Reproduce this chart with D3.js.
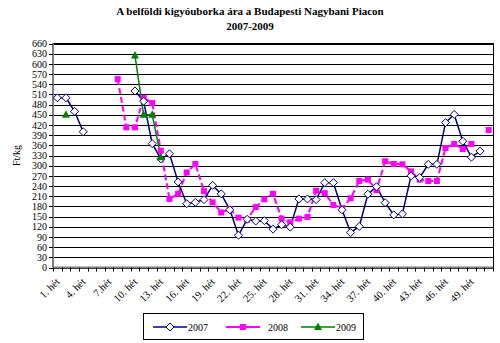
<!DOCTYPE html>
<html><head><meta charset="utf-8">
<script src="https://cdn.jsdelivr.net/npm/d3@7"></script>
<style>body{margin:0;background:#fff}svg{display:block}text{font-family:"Liberation Serif","Times New Roman",serif}</style>
</head><body>
<svg id="c" width="500" height="343"></svg>
<script>
const weekLabels = ["1. hét","2. hét","3. hét","4. hét","5. hét","6. hét","7.hét","8. hét","9. hét","10. hét",
"11. hét","12. hét","13. hét","14. hét","15. hét","16. hét","17. hét","18. hét","19. hét","20. hét",
"21. hét","22. hét","23. hét","24. hét","25. hét","26. hét","27. hét","28. hét","29. hét","30. hét",
"31. hét","32. hét","33. hét","34. hét","35. hét","36. hét","37. hét","38. hét","39. hét","40. hét",
"41. hét","42. hét","43. hét","44. hét","45. hét","46. hét","47. hét","48. hét","49. hét","50. hét","51. hét"];
const shownLabels = ["1. hét","4. hét","7.hét","10. hét","13. hét","16. hét","19. hét","22. hét","25. hét","28. hét","31. hét","34. hét","37. hét","40. hét","43. hét","46. hét","49. hét"];
const yTicks = [0,30,60,90,120,150,180,210,240,270,300,330,360,390,420,450,480,510,540,570,600,630,660];
const seriesNames = ["2007","2008","2009"];
const s2007 = [500,500,460,400,null,null,null,null,null,520,490,365,320,335,252,188,192,200,242,217,170,95,142,137,138,113,126,119,202,202,200,250,250,170,103,121,216,238,191,155,158,270,265,304,304,427,451,372,325,343,null];
const s2008 = [null,null,null,null,null,null,null,555,413,413,500,485,344,202,217,280,305,225,192,162,172,147,141,178,201,217,144,133,144,149,226,219,184,174,204,255,259,228,313,305,304,283,259,255,255,352,364,349,364,null,405];
const s2009 = [null,450,null,null,null,null,null,null,null,625,450,450,325,null,null,null,null,null,null,null,null,null,null,null,null,null,null,null,null,null,null,null,null,null,null,null,null,null,null,null,null,null,null,null,null,null,null,null,null,null,null];

const svg = d3.select("#c");
const L = 53, R = 493, T = 43.5, B = 267.5;
const x = d3.scaleBand().domain(weekLabels).range([L, R]).padding(0);
const y = d3.scaleLinear().domain([0, 660]).range([B, T]);
const cx = d => x(d) + x.bandwidth() / 2;

// title
svg.append("text").attr("x", 250).attr("y", 15).attr("text-anchor", "middle")
  .attr("font-size", 11).attr("font-weight", "bold").text("A belföldi kigyóuborka ára a Budapesti Nagybani Piacon");
svg.append("text").attr("x", 250).attr("y", 30).attr("text-anchor", "middle")
  .attr("font-size", 11).attr("font-weight", "bold").text("2007-2009");

// gridlines
svg.append("g").attr("transform", `translate(${L},0)`)
  .call(d3.axisLeft(y).tickValues(yTicks).tickSize(-(R - L)).tickFormat(""))
  .call(g => g.select(".domain").remove())
  .call(g => g.selectAll("line").attr("stroke", "#000").attr("stroke-width", 1).attr("shape-rendering", "crispEdges"));

// plot border
svg.append("rect").attr("x", L).attr("y", T).attr("width", R - L).attr("height", B - T)
  .attr("fill", "none").attr("stroke", "#000").attr("shape-rendering", "crispEdges");
svg.append("line").attr("x1", L).attr("x2", L).attr("y1", T).attr("y2", B)
  .attr("stroke", "#808080").attr("stroke-width", 2);
svg.append("line").attr("x1", L).attr("x2", R).attr("y1", B).attr("y2", B)
  .attr("stroke", "#808080").attr("stroke-width", 2);

// y axis
svg.append("g").attr("transform", `translate(${L},0)`)
  .call(d3.axisLeft(y).tickValues(yTicks).tickSize(4).tickPadding(2))
  .call(g => g.select(".domain").remove())
  .call(g => g.selectAll("line").attr("stroke", "#000").attr("shape-rendering", "crispEdges"))
  .call(g => g.selectAll("text").attr("font-family", "Liberation Serif").attr("font-size", 10).attr("fill", "#000"));

svg.append("text").attr("transform", `translate(20,${(T + B) / 2}) rotate(-90)`)
  .attr("text-anchor", "middle").attr("font-size", 10).text("Ft/kg");

// x ticks between categories
const edges = weekLabels.map(d => x(d)).concat([x(weekLabels[weekLabels.length - 1]) + x.bandwidth()]);
svg.append("g").selectAll("line").data(edges).join("line")
  .attr("x1", d => Math.round(d) + 0.5).attr("x2", d => Math.round(d) + 0.5)
  .attr("y1", B).attr("y2", B + 4).attr("stroke", "#000");

// x labels
svg.append("g").attr("transform", `translate(0,${B})`)
  .call(d3.axisBottom(x).tickValues(shownLabels).tickSize(0).tickPadding(0))
  .call(g => g.select(".domain").remove())
  .call(g => g.selectAll("text")
    .attr("font-family", "Liberation Serif").attr("font-size", 10.5).attr("fill", "#000")
    .attr("text-anchor", "end").attr("dy", 0)
    .attr("transform", "translate(3,15) rotate(-45)"));

// series
const line = d3.line().defined(d => d.v != null).x(d => cx(d.k)).y(d => y(d.v));
const toPts = arr => arr.map((v, i) => ({k: weekLabels[i], v}));
const colors = {"2007": "#000080", "2008": "#FF00FF", "2009": "#008000"};
const data = {"2007": toPts(s2007), "2008": toPts(s2008), "2009": toPts(s2009)};

svg.append("path").datum(data["2008"]).attr("d", line).attr("fill", "none")
  .attr("stroke", colors["2008"]).attr("stroke-width", 2).attr("stroke-dasharray", "6,3");
svg.append("path").datum(data["2007"]).attr("d", line).attr("fill", "none")
  .attr("stroke", colors["2007"]).attr("stroke-width", 1.5);
svg.append("path").datum(data["2009"]).attr("d", line).attr("fill", "none")
  .attr("stroke", colors["2009"]).attr("stroke-width", 1.5);

const diamond = "M0,-4L4,0L0,4L-4,0Z";
const tri = "M0,-4.5L4,3L-4,3Z";
svg.append("g").selectAll("path").data(data["2008"].filter(d => d.v != null)).join("path")
  .attr("transform", d => `translate(${cx(d.k)},${y(d.v)})`).attr("d", "M-3,-3H3V3H-3Z")
  .attr("fill", colors["2008"]);
svg.append("g").selectAll("path").data(data["2007"].filter(d => d.v != null)).join("path")
  .attr("transform", d => `translate(${cx(d.k)},${y(d.v)})`).attr("d", diamond)
  .attr("fill", "#fff").attr("stroke", colors["2007"]).attr("stroke-width", 1);
svg.append("g").selectAll("path").data(data["2009"].filter(d => d.v != null)).join("path")
  .attr("transform", d => `translate(${cx(d.k)},${y(d.v)})`).attr("d", tri)
  .attr("fill", colors["2009"]);

// legend
const lg = svg.append("g");
lg.append("rect").attr("x", 143.5).attr("y", 313.5).attr("width", 220).attr("height", 26)
  .attr("fill", "#fff").attr("stroke", "#000");
const legX = [153, 226, 301];
seriesNames.forEach((s, i) => {
  const x0 = legX[i], yy = 327;
  lg.append("line").attr("x1", x0).attr("x2", x0 + 34).attr("y1", yy).attr("y2", yy)
    .attr("stroke", colors[s]).attr("stroke-width", s === "2008" ? 2 : 1.5);
  const m = lg.append("path").attr("transform", `translate(${x0 + 17},${yy})`);
  if (s === "2007") m.attr("d", diamond).attr("fill", "#fff").attr("stroke", colors[s]);
  if (s === "2008") m.attr("d", "M-3,-3H3V3H-3Z").attr("fill", colors[s]);
  if (s === "2009") m.attr("d", tri).attr("fill", colors[s]);
  lg.append("text").attr("x", x0 + 35 + (s === "2008" ? 7 : 0)).attr("y", yy + 4).attr("font-size", 10).text(s);
});
</script>
</body></html>
